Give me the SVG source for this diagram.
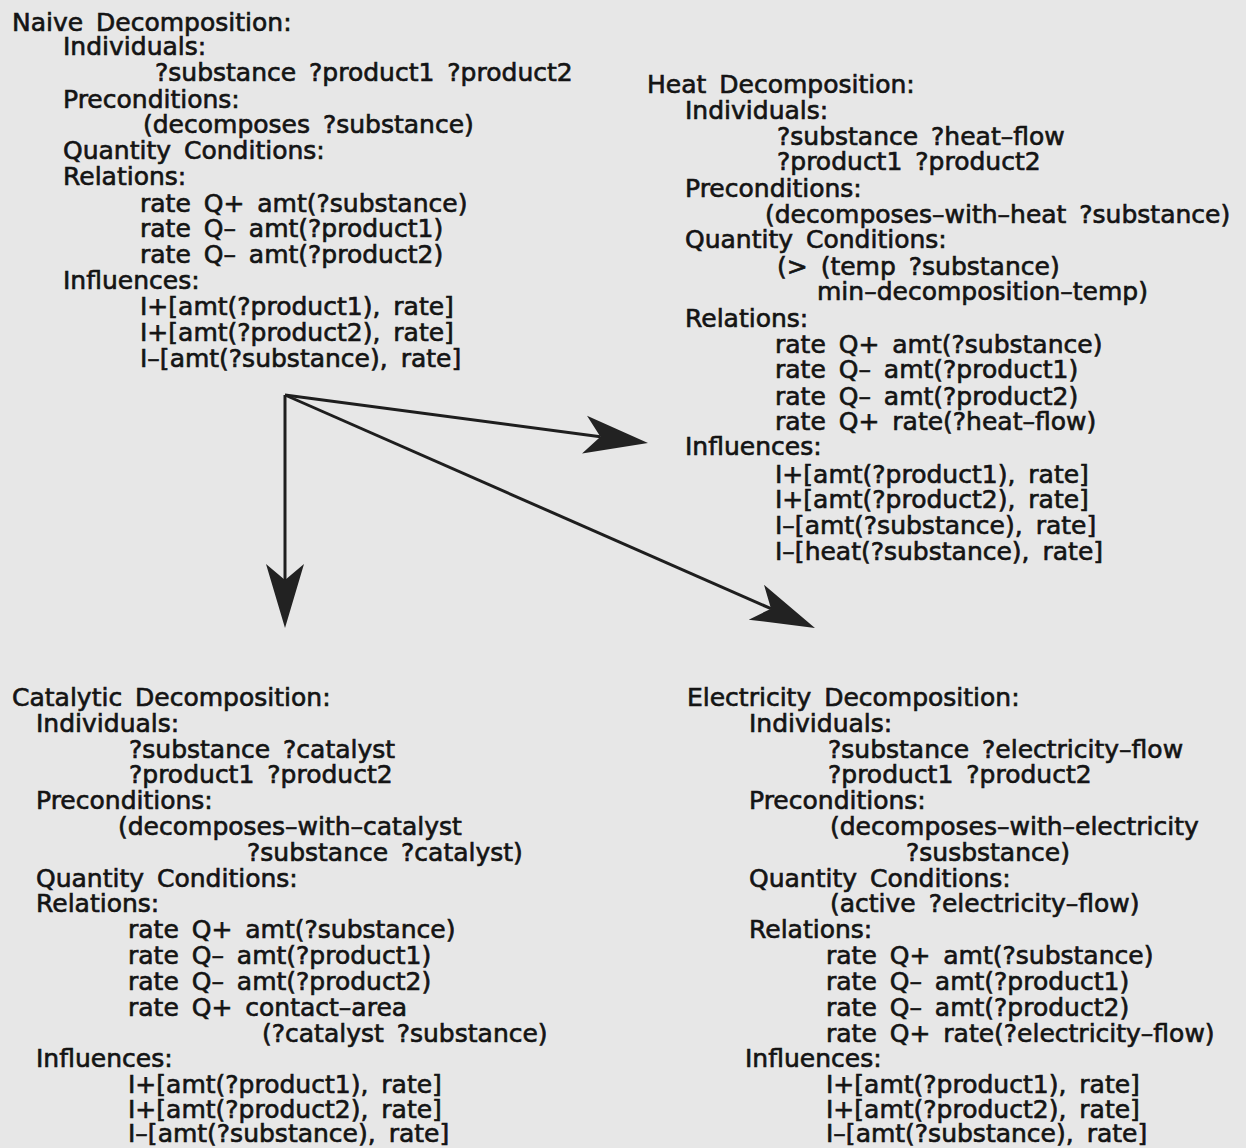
<svg xmlns="http://www.w3.org/2000/svg" width="1246" height="1148" viewBox="0 0 1246 1148">
<defs>
<style>
.t{font-family:"DejaVu Sans","Liberation Sans",sans-serif;font-size:25px;fill:#141414;stroke:#141414;stroke-width:0.65;word-spacing:5px}
.c{stroke:#1e1e1e;stroke-width:3;fill:none}
</style>
<marker id="ah" markerUnits="userSpaceOnUse" markerWidth="80" markerHeight="44" viewBox="-18 -22 80 44" refX="0" refY="0" orient="auto" overflow="visible">
<path d="M48,0 L-16,-19 L0,0 L-16,19 Z" fill="#222"/>
</marker>
</defs>
<rect width="1246" height="1148" fill="#e7e7e7"/>
<g id="naive" class="t">
<text x="12" y="31">Naive Decomposition:</text>
<text x="63" y="55">Individuals:</text>
<text x="155" y="81">?substance ?product1 ?product2</text>
<text x="63" y="108">Preconditions:</text>
<text x="143" y="133">(decomposes ?substance)</text>
<text x="63" y="159">Quantity Conditions:</text>
<text x="63" y="185">Relations:</text>
<text x="140" y="212">rate Q+ amt(?substance)</text>
<text x="140" y="237">rate Q– amt(?product1)</text>
<text x="140" y="263">rate Q– amt(?product2)</text>
<text x="63" y="289">Influences:</text>
<text x="140" y="315">I+[amt(?product1), rate]</text>
<text x="140" y="341">I+[amt(?product2), rate]</text>
<text x="140" y="367">I–[amt(?substance), rate]</text>
</g>
<g id="heat" class="t">
<text x="647" y="93">Heat Decomposition:</text>
<text x="685" y="119">Individuals:</text>
<text x="777" y="145">?substance ?heat–flow</text>
<text x="777" y="170">?product1 ?product2</text>
<text x="685" y="197">Preconditions:</text>
<text x="765" y="223">(decomposes–with–heat ?substance)</text>
<text x="685" y="248">Quantity Conditions:</text>
<text x="777" y="275">(&gt; (temp ?substance)</text>
<text x="817" y="300">min–decomposition–temp)</text>
<text x="685" y="327">Relations:</text>
<text x="775" y="353">rate Q+ amt(?substance)</text>
<text x="775" y="378">rate Q– amt(?product1)</text>
<text x="775" y="405">rate Q– amt(?product2)</text>
<text x="775" y="430">rate Q+ rate(?heat–flow)</text>
<text x="685" y="455">Influences:</text>
<text x="775" y="483">I+[amt(?product1), rate]</text>
<text x="775" y="508">I+[amt(?product2), rate]</text>
<text x="775" y="534">I–[amt(?substance), rate]</text>
<text x="775" y="560">I–[heat(?substance), rate]</text>
</g>
<g id="catalytic" class="t">
<text x="12" y="706">Catalytic Decomposition:</text>
<text x="36" y="732">Individuals:</text>
<text x="129" y="758">?substance ?catalyst</text>
<text x="129" y="783">?product1 ?product2</text>
<text x="36" y="809">Preconditions:</text>
<text x="118" y="835">(decomposes–with–catalyst</text>
<text x="247" y="861">?substance ?catalyst)</text>
<text x="36" y="887">Quantity Conditions:</text>
<text x="36" y="912">Relations:</text>
<text x="128" y="938">rate Q+ amt(?substance)</text>
<text x="128" y="964">rate Q– amt(?product1)</text>
<text x="128" y="990">rate Q– amt(?product2)</text>
<text x="128" y="1016">rate Q+ contact–area</text>
<text x="262" y="1042">(?catalyst ?substance)</text>
<text x="36" y="1067">Influences:</text>
<text x="128" y="1093">I+[amt(?product1), rate]</text>
<text x="128" y="1118">I+[amt(?product2), rate]</text>
<text x="128" y="1142">I–[amt(?substance), rate]</text>
</g>
<g id="electricity" class="t">
<text x="687" y="706">Electricity Decomposition:</text>
<text x="749" y="732">Individuals:</text>
<text x="828" y="758">?substance ?electricity–flow</text>
<text x="828" y="783">?product1 ?product2</text>
<text x="749" y="809">Preconditions:</text>
<text x="830" y="835">(decomposes–with–electricity</text>
<text x="906" y="861">?susbstance)</text>
<text x="749" y="887">Quantity Conditions:</text>
<text x="830" y="912">(active ?electricity–flow)</text>
<text x="749" y="938">Relations:</text>
<text x="826" y="964">rate Q+ amt(?substance)</text>
<text x="826" y="990">rate Q– amt(?product1)</text>
<text x="826" y="1016">rate Q– amt(?product2)</text>
<text x="826" y="1042">rate Q+ rate(?electricity–flow)</text>
<text x="745" y="1067">Influences:</text>
<text x="826" y="1093">I+[amt(?product1), rate]</text>
<text x="826" y="1118">I+[amt(?product2), rate]</text>
<text x="826" y="1142">I–[amt(?substance), rate]</text>
</g>
<g id="connectors">
<line class="c" x1="285" y1="395" x2="285" y2="580" marker-end="url(#ah)"/>
<line class="c" x1="285" y1="395" x2="600.4" y2="436.7" marker-end="url(#ah)"/>
<line class="c" x1="285" y1="395" x2="771" y2="608.7" marker-end="url(#ah)"/>
</g>
</svg>
